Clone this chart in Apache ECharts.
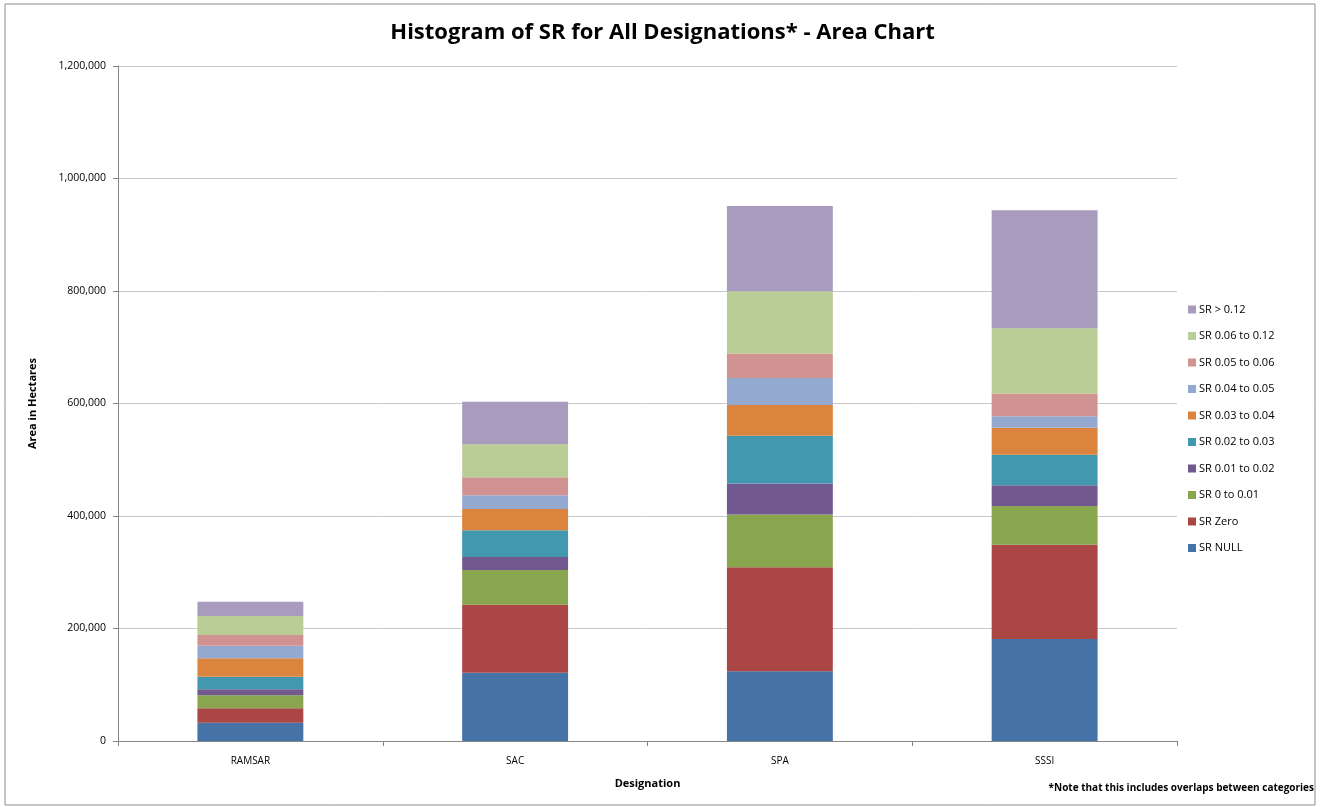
<!DOCTYPE html>
<html>
<head>
<meta charset="utf-8">
<script src="https://cdn.jsdelivr.net/npm/echarts@6/dist/echarts.min.js"></script>
<style>
  html, body { margin: 0; padding: 0; background: #fff; }
  #chart { width: 1325px; height: 807px; }
</style>
</head>
<body>
<div id="chart"></div>
<script>
// categories on the x axis
var designations = ["RAMSAR", "SAC", "SPA", "SSSI"];

// stacked series, bottom to top (values in hectares)
var srNull    = [32500, 121400, 124000, 181300];
var srZero    = [25600, 120900, 184800, 167800];
var sr0to001  = [23100, 61700, 93700, 68600];
var sr001to002 = [10700, 23100, 55400, 36800];
var sr002to003 = [22400, 47500, 84900, 54200];
var sr003to004 = [32700, 37900, 54700, 48100];
var sr004to005 = [22400, 24400, 47800, 20500];
var sr005to006 = [19000, 32000, 43400, 40600];
var sr006to012 = [33800, 58700, 110700, 116000];
var srOver012  = [25400, 75700, 151500, 209600];

var seriesNames = ["SR NULL", "SR Zero", "SR 0 to 0.01", "SR 0.01 to 0.02", "SR 0.02 to 0.03",
  "SR 0.03 to 0.04", "SR 0.04 to 0.05", "SR 0.05 to 0.06", "SR 0.06 to 0.12", "SR > 0.12"];
var seriesData = [srNull, srZero, sr0to001, sr001to002, sr002to003,
  sr003to004, sr004to005, sr005to006, sr006to012, srOver012];
var colors = ["#4572A7", "#AA4643", "#89A54E", "#71588F", "#4198AF",
  "#DB843D", "#93A9CF", "#D19392", "#B9CD96", "#A99BBD"];

var font = "Open Sans";

var series = seriesNames.map(function (name, i) {
  return {
    name: name,
    type: "bar",
    stack: "total",
    barCategoryGap: "60%",
    itemStyle: { color: colors[i] },
    data: seriesData[i]
  };
});

var chart = echarts.init(document.getElementById("chart"));
chart.setOption({
  animation: false,
  color: colors,
  textStyle: { fontFamily: font },
  title: {
    text: "Histogram of SR for All Designations* - Area Chart",
    left: "center",
    top: 17,
    textStyle: { fontFamily: font, fontSize: 22, fontWeight: "bold", color: "#000" }
  },
  legend: {
    orient: "vertical",
    left: 1183,
    top: 299,
    itemWidth: 8,
    itemHeight: 8,
    itemGap: 15.5,
    icon: "rect",
    data: seriesNames.slice().reverse(),
    textStyle: { fontFamily: font, fontSize: 11, color: "#000", padding: [0, 0, 0, -2] }
  },
  grid: { left: 118, right: 148, top: 66, bottom: 66 },
  xAxis: {
    type: "category",
    data: designations,
    name: "Designation",
    nameLocation: "middle",
    nameGap: 37,
    nameTextStyle: { fontFamily: font, fontSize: 11, fontWeight: "bold", color: "#000" },
    axisLine: { lineStyle: { color: "#868686" } },
    axisTick: { show: true, length: 5, lineStyle: { color: "#868686" } },
    axisLabel: { fontFamily: font, fontSize: 10, color: "#000", margin: 15 }
  },
  yAxis: {
    type: "value",
    min: 0,
    max: 1200000,
    interval: 200000,
    name: "Area in Hectares",
    nameLocation: "middle",
    nameGap: 80,
    nameTextStyle: { fontFamily: font, fontSize: 11, fontWeight: "bold", color: "#000" },
    axisLine: { show: true, lineStyle: { color: "#868686" } },
    axisTick: { show: true, length: 5, lineStyle: { color: "#868686" } },
    splitLine: { lineStyle: { color: "#c8c8c8" } },
    axisLabel: {
      fontFamily: font, fontSize: 10.5, color: "#000", margin: 12,
      formatter: function (v) { return v.toLocaleString("en-US"); }
    }
  },
  graphic: [
    {
      type: "rect",
      shape: { x: 5, y: 4, width: 1310, height: 801 },
      style: { fill: "none", stroke: "#8c8c8c", lineWidth: 1 },
      silent: true
    },
    {
      type: "text",
      right: 11,
      top: 783,
      style: {
        text: "*Note that this includes overlaps between categories",
        font: "bold 10px " + font,
        fill: "#000"
      }
    }
  ],
  series: series
});
</script>
</body>
</html>
